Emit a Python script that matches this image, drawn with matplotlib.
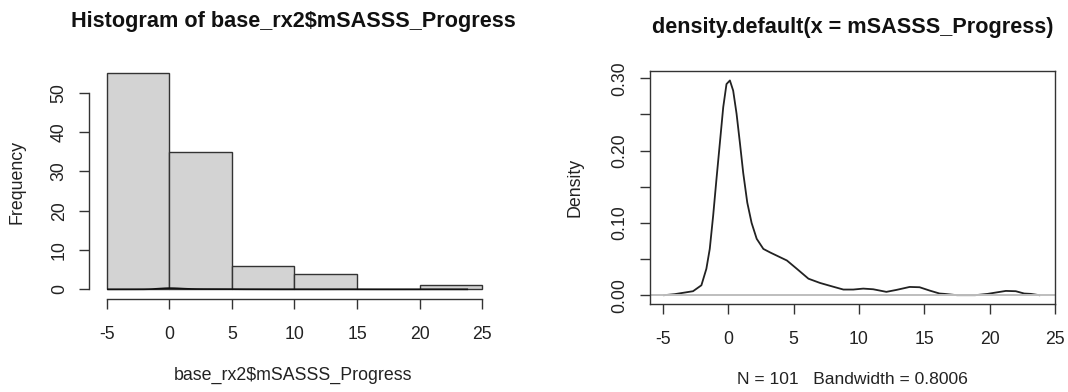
import numpy as np
import matplotlib
matplotlib.use("Agg")
from matplotlib import pyplot as plt

# histogram: bin edges and counts
bin_edges = [-5, 0, 5, 10, 15, 20, 25]
counts = [55, 35, 6, 4, 0, 1]

# density curve
dens_x = [-4.9, -4.10, -2.69, -2.05, -1.67, -1.41, -1.15, -0.90, -0.64, -0.38,
          -0.13, 0.13, 0.38, 0.64, 0.90, 1.15, 1.46, 1.79, 2.18, 2.69, 3.22,
          3.97, 4.49, 5.25, 6.14, 7.03, 7.92, 8.81, 9.57, 10.33, 11.09, 12.1,
          12.87, 13.88, 14.64, 15.41, 16.17, 16.55, 17.5, 18.9, 19.85, 20.48,
          21.24, 22.0, 22.64, 23.15, 23.8]
dens_y = [0.0, 0.0014, 0.0055, 0.0137, 0.0365, 0.064, 0.110, 0.160, 0.210, 0.260,
          0.292, 0.297, 0.283, 0.251, 0.210, 0.169, 0.128, 0.100, 0.078, 0.064, 0.059,
          0.0525, 0.048, 0.0365, 0.0228, 0.0169, 0.0123, 0.0078, 0.0078, 0.0091, 0.0082, 0.0046,
          0.0073, 0.0114, 0.011, 0.0064, 0.0023, 0.0018, 0.0, 0.0, 0.0018, 0.0037,
          0.0059, 0.0055, 0.0023, 0.0018, 0.0]

x_ticks = [-5, 0, 5, 10, 15, 20, 25]
freq_ticks = [0, 10, 20, 30, 40, 50]
dens_ticks = [0.0, 0.05, 0.10, 0.15, 0.20, 0.25, 0.30]
dens_labels = ["0.00", "", "0.10", "", "0.20", "", "0.30"]

plt.rcParams['font.family'] = ['Liberation Sans', 'DejaVu Sans']
txt = '#222222'
line_c = '#333333'

fig = plt.figure(figsize=(10.68, 3.92), dpi=100)
W, H = 1068, 392

def box(l, r, t, b):
    return [l / W, 1 - b / H, (r - l) / W, (b - t) / H]

# ---- histogram ----
ax1 = fig.add_axes(box(89.3, 497.3, 64.5, 299.3))
widths = np.diff(bin_edges)
ax1.bar(bin_edges[:-1], counts, width=widths, align='edge',
        color='#D3D3D3', edgecolor=line_c, linewidth=1.0)
ax1.plot(dens_x, dens_y, color='#111111', linewidth=1.2)
ax1.set_xlim(-6.39, 26.2)
ax1.set_ylim(-2.54, 57.2)
for s in ['top', 'right']:
    ax1.spines[s].set_visible(False)
ax1.spines['left'].set_bounds(0, 50)
ax1.spines['bottom'].set_bounds(-5, 25)
ax1.set_xticks(x_ticks)
ax1.set_xticklabels([str(v) for v in x_ticks])
ax1.set_yticks(freq_ticks)
ax1.set_yticklabels([str(v) for v in freq_ticks], rotation=90, va='center')

# ---- density ----
ax2 = fig.add_axes(box(649.5, 1055, 70.7, 303.5))
ax2.plot(dens_x, dens_y, color='#222222', linewidth=1.3)
ax2.axhline(0, color='#BEBEBE', linewidth=1.4)
ax2.set_xlim(-6.02, 25.0)
ax2.set_ylim(-0.0115, 0.3105)
ax2.set_xticks(x_ticks)
ax2.set_xticklabels([str(v) for v in x_ticks])
ax2.set_yticks(dens_ticks)
ax2.set_yticklabels(dens_labels, rotation=90, va='center')

for ax in (ax1, ax2):
    for s in ax.spines.values():
        s.set_color(line_c)
        s.set_linewidth(1.0)
    ax.tick_params(direction='out', length=7.5, width=1.0, color=line_c,
                   labelsize=12.7, labelcolor=txt, pad=12)
    ax.tick_params(axis='y', pad=8)

fig.text(293.3 / W, 1 - 21 / H, "Histogram of base_rx2$mSASSS_Progress",
         ha='center', va='center', fontsize=15.6, fontweight='bold', color='#111111')
fig.text(852.3 / W, 1 - 28 / H, "density.default(x = mSASSS_Progress)",
         ha='center', va='center', fontsize=15.6, fontweight='bold', color='#111111')
fig.text(293.3 / W, 1 - 375 / H, "base_rx2$mSASSS_Progress",
         ha='center', va='center', fontsize=12.8, color=txt)
fig.text(852.3 / W, 1 - 380 / H, "N = 101   Bandwidth = 0.8006",
         ha='center', va='center', fontsize=12.6, color=txt)
fig.text(17 / W, 1 - 181.5 / H, "Frequency", rotation=90,
         ha='center', va='center', fontsize=12.8, color=txt)
fig.text(574.8 / W, 1 - 187.5 / H, "Density", rotation=90,
         ha='center', va='center', fontsize=12.8, color=txt)

fig.savefig("out.png", dpi=100)
